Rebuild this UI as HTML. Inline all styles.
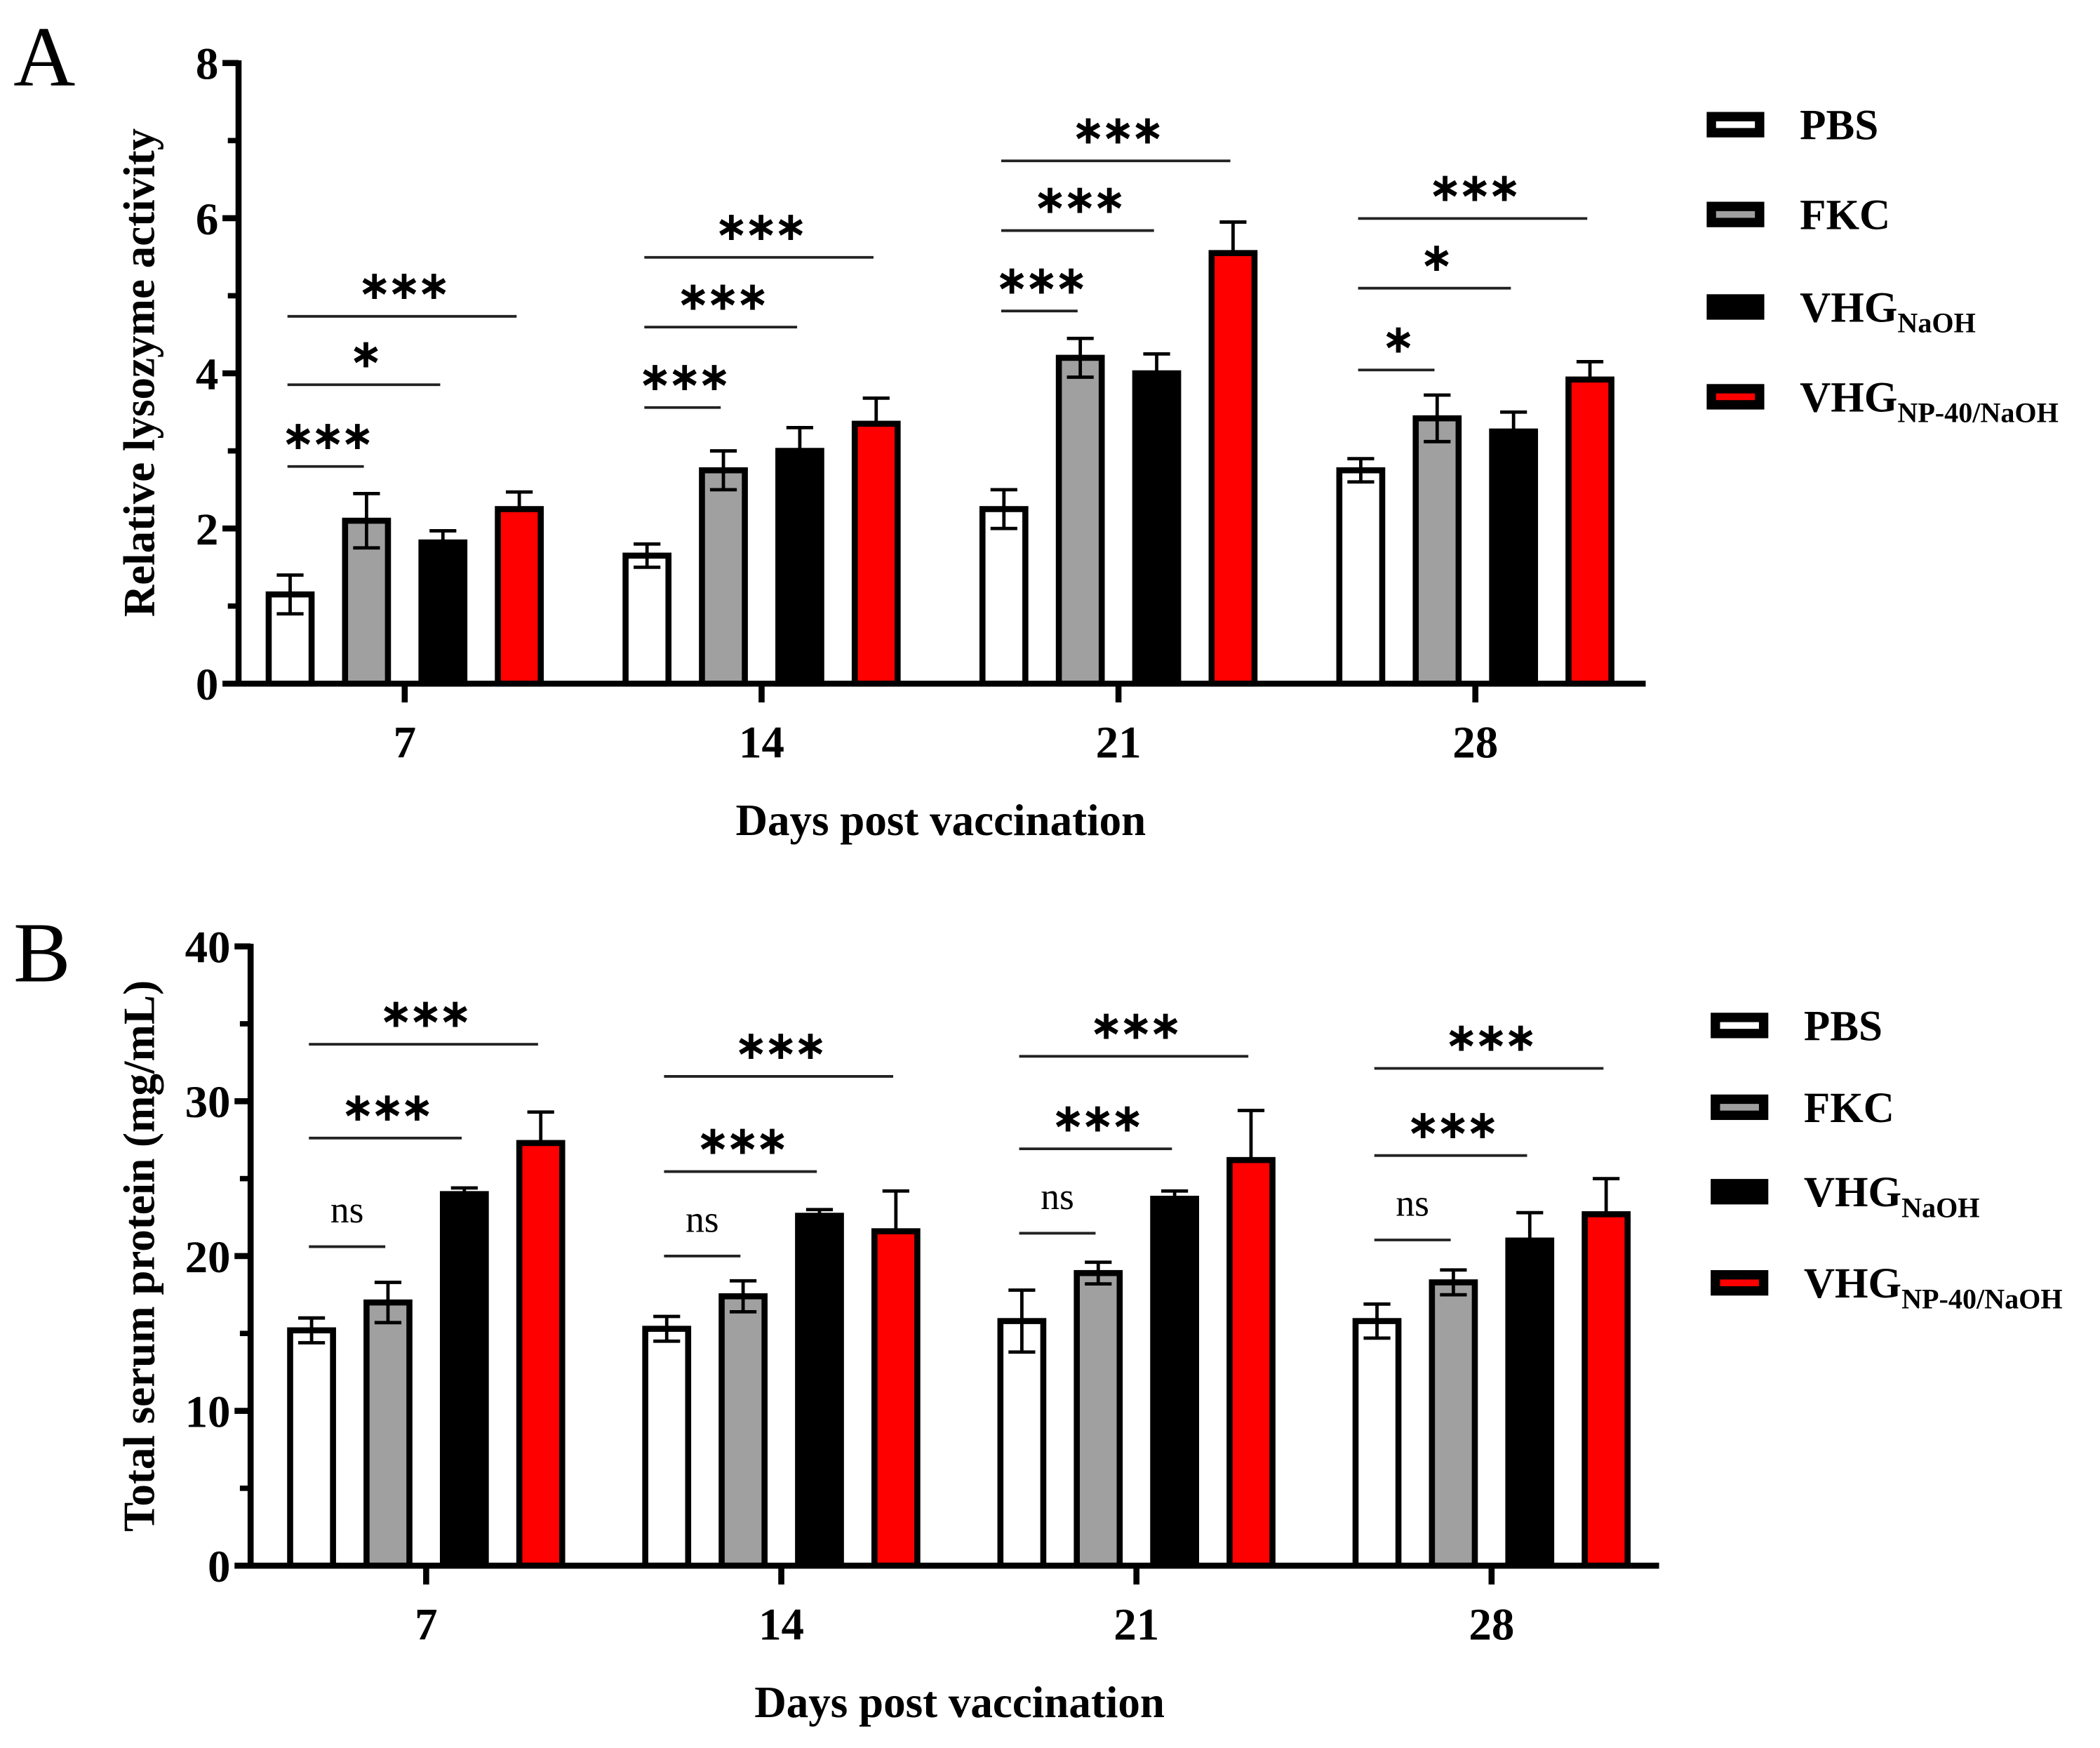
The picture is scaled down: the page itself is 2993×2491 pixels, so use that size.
<!DOCTYPE html>
<html><head><meta charset="utf-8"><style>
html,body{margin:0;padding:0;background:#fff;}
svg{display:block;font-family:"Liberation Serif",serif;}
</style></head><body>
<svg id="fig" width="2993" height="2491" viewBox="0 0 1567 1304" preserveAspectRatio="none" xmlns="http://www.w3.org/2000/svg"></svg>
<script>
const groupsA = ["7","14","21","28"];
const seriesNames = ["PBS","FKC","VHG_NaOH","VHG_NP40"];
const pbsA = [1.15,1.65,2.25,2.75];
const fkcA = [2.1,2.75,4.2,3.42];
const naohA = [1.82,3.0,4.0,3.25];
const np40A = [2.25,3.35,5.55,3.92];
const pbsAerr = [0.25,0.15,0.25,0.15];
const fkcAerr = [0.35,0.25,0.25,0.3];
const naohAerr = [0.15,0.3,0.25,0.25];
const np40Aerr = [0.22,0.33,0.4,0.23];
const ticksA = [0,2,4,6,8];
const sigA = [["***","*","***"],["***","***","***"],["***","***","***"],["*","*","***"]];

const groupsB = ["7","14","21","28"];
const pbsB = [15.2,15.3,15.8,15.8];
const fkcB = [17.0,17.4,18.9,18.3];
const naohB = [24.0,22.6,23.7,21.0];
const np40B = [27.3,21.6,26.2,22.7];
const pbsBerr = [0.8,0.8,2.0,1.1];
const fkcBerr = [1.3,1.0,0.7,0.8];
const naohBerr = [0.4,0.4,0.5,1.8];
const np40Berr = [2.0,2.6,3.2,2.3];
const ticksB = [0,10,20,30,40];
const sigB = [["ns","***","***"],["ns","***","***"],["ns","***","***"],["ns","***","***"]];

const NS = "http://www.w3.org/2000/svg";
const svg = document.getElementById("fig");
function el(tag, attrs, parent, text){
  const e = document.createElementNS(NS, tag);
  for (const k in attrs) e.setAttribute(k, attrs[k]);
  if (text !== undefined) e.textContent = text;
  (parent||svg).appendChild(e);
  return e;
}
const fills = ["#ffffff","#a0a0a0","#000000","#ff0000"];

function panel(cfg){
  const g = el("g", {});
  
  
  const y = v => cfg.y0 - (v - 0) / cfg.ymax * (cfg.y0 - cfg.ytop);
  const gx = i => cfg.gx0 + i * cfg.gstep;
  const offs = [-85.5,-28.5,28.5,85.5];
  const bw = 32;
  const L = el("text", {x: cfg.letterX, y: cfg.letterY, "font-size": 64}, g, cfg.letter);
  
  
  const vals = cfg.vals, errs = cfg.errs;
  for (let s=0;s<4;s++){
    for (let i=0;i<cfg.groups.length;i++){
      const cx = gx(i) + offs[s];
      const v = vals[s][i], e = errs[s][i];
      const r = el("rect", {x: cx-bw/2, y: y(v), width: bw, height: cfg.y0 - y(v), fill: fills[s], stroke: "#000", "stroke-width": 4.5}, g);
      
      
      const lowV = (s < 2) ? v - e : v;
      const eb = el("path", {d: `M${cx} ${y(v+e)} L${cx} ${y(lowV)} M${cx-10} ${y(v+e)} L${cx+10} ${y(v+e)}` + (s<2?` M${cx-10} ${y(v-e)} L${cx+10} ${y(v-e)}`:""), stroke:"#000", "stroke-width":2.5, fill:"none"}, g);
      
      
    }
  }
  const ax = el("path", {d:`M${cfg.ax} ${cfg.ytop-2} L${cfg.ax} ${cfg.y0} L${cfg.xend} ${cfg.y0}`, stroke:"#000", "stroke-width":4.5, fill:"none"}, g);
  
  
  const step = cfg.ticks[1]-cfg.ticks[0];
  for (let k=0;k<cfg.ticks.length;k++){
    const t = cfg.ticks[k];
    el("line",{x1:cfg.ax-12,x2:cfg.ax,y1:y(t),y2:y(t),stroke:"#000","stroke-width":4.5},g);
    if (k<cfg.ticks.length-1) el("line",{x1:cfg.ax-8,x2:cfg.ax,y1:y(t+step/2),y2:y(t+step/2),stroke:"#000","stroke-width":4},g);
    const tl = el("text",{x:cfg.ax-15,y:y(t)+12,"font-size":34,"font-weight":"bold","text-anchor":"end"},g,String(t));
    
    
  }
  for (let i=0;i<cfg.groups.length;i++){
    el("line",{x1:gx(i),x2:gx(i),y1:cfg.y0,y2:cfg.y0+14,stroke:"#000","stroke-width":4.5},g);
    const xl = el("text",{x:gx(i),y:cfg.y0+55,"font-size":34,"font-weight":"bold","text-anchor":"middle"},g,cfg.groups[i]);
    
    
  }
  const xt = el("text",{x:cfg.xtitleX,y:cfg.y0+113,"font-size":33,"font-weight":"bold","text-anchor":"middle"},g,"Days post vaccination");
  
  
  const yt = el("text",{x:0,y:0,"font-size":33,"font-weight":"bold","text-anchor":"middle",transform:`translate(${cfg.ytitleX},${cfg.ytitleY}) rotate(-90)`},g,cfg.ytitle);
  
  
  for (let i=0;i<cfg.groups.length;i++){
    for (let j=0;j<3;j++){
      const x1 = gx(i)+offs[0]-2, x2 = gx(i)+offs[j+1]-2;
      const ly = cfg.sigY[i][j];
      const ln = el("line",{x1:x1,x2:x2,y1:ly,y2:ly,stroke:"#222","stroke-width":2},g);
      
      
      const lab = cfg.sig[i][j];
      const isNs = lab==="ns";
      const st = isNs
        ? el("text",{x:(x1+x2)/2,y:ly-18,"font-size":28,"text-anchor":"middle"},g,lab)
        : el("text",{x:(x1+x2)/2,y:ly-13,"font-size":30,"font-weight":"bold","text-anchor":"middle","letter-spacing":-3,"font-family":'"DejaVu Sans",sans-serif'},g,lab.replace(/\*/g,"∗"));
      
      
    }
  }
  const labels = [["PBS",""],["FKC",""],["VHG","NaOH"],["VHG","NP-40/NaOH"]];
  for (let s=0;s<4;s++){
    const ly = cfg.legY[s];
    const lr = el("rect",{x:cfg.legX+4,y:ly-6,width:36,height:12,fill:fills[s],stroke:"#000","stroke-width":7},g);
    
    
    const t = el("text",{x:cfg.legX+70,y:ly+11,"font-size":32,"font-weight":"bold"},g);
    
    
    el("tspan",{},t,labels[s][0]);
    if (labels[s][1]) el("tspan",{"font-size":21,dy:8},t,labels[s][1]);
  }
}

panel({name:"panel-a",letter:"A",letterX:10,letterY:64,groups:groupsA,y0:510,ytop:47,ymax:8,
  ax:178,xend:1228,gx0:302,gstep:266.3,xtitleX:702,ytitleX:115,ytitleY:278,
  ytitle:"Relative lysozyme activity",ticks:ticksA,
  vals:[pbsA,fkcA,naohA,np40A],errs:[pbsAerr,fkcAerr,naohAerr,np40Aerr],
  sig:sigA,sigY:[[348,287,236],[304,244,192],[232,172,120],[276,215,163]],
  legX:1273,legY:[93,160,229,296]});
panel({name:"panel-b",letter:"B",letterX:10,letterY:732,groups:groupsB,y0:1168,ytop:706,ymax:40,
  ax:187,xend:1238,gx0:318,gstep:265,xtitleX:716,ytitleX:115,ytitleY:937,
  ytitle:"Total serum protein (mg/mL)",ticks:ticksB,
  vals:[pbsB,fkcB,naohB,np40B],errs:[pbsBerr,fkcBerr,naohBerr,np40Berr],
  sig:sigB,sigY:[[930,849,779],[937,874,803],[920,857,788],[925,862,797]],
  legX:1276,legY:[765,826,889,957]});
</script>
</body></html>
